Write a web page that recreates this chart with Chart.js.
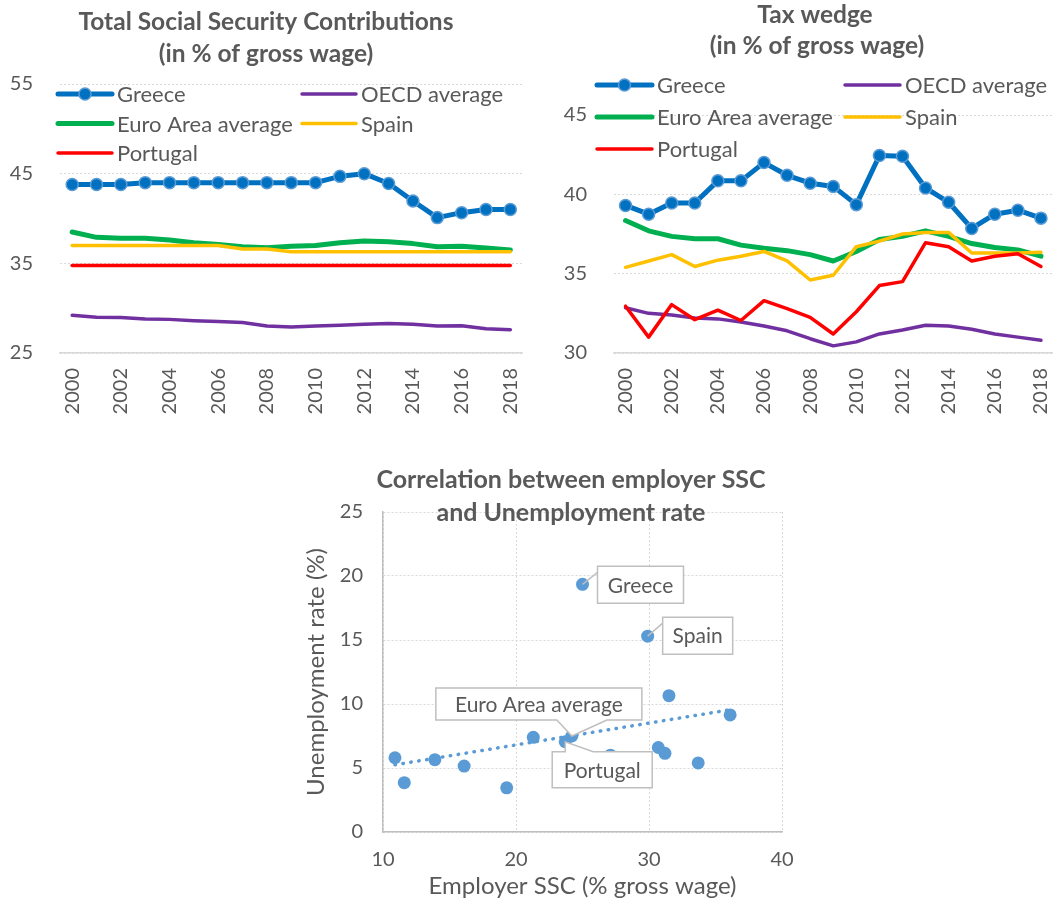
<!DOCTYPE html>
<html>
<head>
<meta charset="utf-8">
<script src="https://cdn.jsdelivr.net/npm/chart.js@4.4.1/dist/chart.umd.min.js"></script>
<style>
  body { margin: 0; background: #fff; }
  #wrap { position: relative; width: 1060px; height: 905px; }
  canvas { position: absolute; }
</style>
</head>
<body>
<div id="wrap">
  <canvas id="ssc" width="530" height="430" style="left:0;top:0"></canvas>
  <canvas id="wedge" width="530" height="430" style="left:530px;top:0"></canvas>
  <canvas id="corr" width="510" height="450" style="left:290px;top:455px"></canvas>
</div>
<script>
// ---- data ----
const years = ['2000', '2001', '2002', '2003', '2004', '2005', '2006', '2007', '2008', '2009',
  '2010', '2011', '2012', '2013', '2014', '2015', '2016', '2017', '2018'];

// total social security contributions (% of gross wage)
const sscGreece = [43.8, 43.8, 43.8, 44.0, 44.0, 44.0, 44.0, 44.0, 44.0, 44.0, 44.0, 44.7, 45.0, 43.9, 41.95, 40.1, 40.65, 41.0, 41.0];
const sscOecd = [29.2, 29.0, 28.95, 28.8, 28.75, 28.6, 28.5, 28.4, 28.0, 27.9, 28.0, 28.1, 28.2, 28.3, 28.2, 28.0, 28.05, 27.7, 27.6];
const sscEuro = [38.5, 37.9, 37.8, 37.8, 37.6, 37.3, 37.1, 36.85, 36.75, 36.9, 37.0, 37.3, 37.5, 37.4, 37.2, 36.85, 36.9, 36.7, 36.5];
const sscSpain = [37.0, 37.0, 37.0, 37.0, 37.0, 37.0, 37.0, 36.6, 36.6, 36.3, 36.3, 36.3, 36.3, 36.3, 36.3, 36.3, 36.3, 36.3, 36.3];
const sscPortugal = [34.75, 34.75, 34.75, 34.75, 34.75, 34.75, 34.75, 34.75, 34.75, 34.75, 34.75, 34.75, 34.75, 34.75, 34.75, 34.75, 34.75, 34.75, 34.75];

// tax wedge (% of gross wage)
const wedgeGreece = [39.3, 38.75, 39.45, 39.45, 40.85, 40.85, 42.0, 41.2, 40.7, 40.5, 39.35, 42.45, 42.4, 40.4, 39.5, 37.85, 38.75, 39.0, 38.5];
const wedgeOecd = [32.85, 32.5, 32.4, 32.2, 32.15, 31.95, 31.7, 31.4, 30.9, 30.45, 30.7, 31.2, 31.45, 31.75, 31.7, 31.5, 31.2, 31.0, 30.8];
const wedgeEuro = [38.35, 37.7, 37.35, 37.2, 37.2, 36.8, 36.6, 36.45, 36.2, 35.8, 36.4, 37.15, 37.35, 37.7, 37.35, 36.9, 36.65, 36.5, 36.1];
const wedgeSpain = [35.4, 35.8, 36.2, 35.45, 35.85, 36.1, 36.4, 35.8, 34.6, 34.9, 36.7, 37.05, 37.5, 37.6, 37.6, 36.3, 36.3, 36.3, 36.35];
const wedgePortugal = [32.95, 31.0, 33.05, 32.1, 32.7, 32.05, 33.3, 32.8, 32.25, 31.2, 32.6, 34.25, 34.5, 36.95, 36.7, 35.8, 36.1, 36.25, 35.45];

// employer SSC vs unemployment rate
const corrNames = ['', '', '', '', '', '', 'Portugal', 'Euro Area average', '', '', '', '', '', '', 'Greece', 'Spain'];
const corrSsc = [10.9, 11.6, 13.9, 16.1, 19.3, 21.3, 23.7, 24.2, 27.1, 30.7, 31.2, 31.5, 33.7, 36.1, 25.0, 29.9];
const corrUnemp = [5.8, 3.85, 5.65, 5.15, 3.45, 7.4, 7.05, 7.5, 6.0, 6.6, 6.15, 10.65, 5.4, 9.15, 19.35, 15.3];
const trendSsc = [10.9, 36.1];
const trendUnemp = [5.25, 9.55];

// ---- look ----
const GREY = '#595959';
Chart.defaults.font.family = 'Lato';
Chart.defaults.color = GREY;
Chart.defaults.animation = false;
Chart.defaults.plugins.legend.display = false;
Chart.defaults.plugins.tooltip.enabled = false;

const COLORS = { greece: '#0070C0', oecd: '#7030A0', euro: '#00B050', spain: '#FFC000', portugal: '#FF0000' };

// keep the plot area where the layout padding puts it (ticks.padding otherwise widens it)
function noSidePad(s) { s.paddingLeft = 0; s.paddingRight = 0; }

// draws multi-line titles at fixed spots
const titlePlugin = {
  id: 'fixedTitle',
  afterDraw(chart, args, opts) {
    const ctx = chart.ctx;
    ctx.save();
    ctx.font = 'bold ' + opts.size + 'px Lato';
    ctx.fillStyle = GREY;
    ctx.textAlign = 'center';
    ctx.textBaseline = 'alphabetic';
    opts.lines.forEach(l => ctx.fillText(l.text, l.x, l.y));
    ctx.restore();
  }
};

// two-column legend laid over the plot, like the Excel one
const legendPlugin = {
  id: 'gridLegend',
  afterDatasetsDraw(chart, args, opts) {
    const ctx = chart.ctx;
    chart.data.datasets.forEach((ds, i) => {
      const x = opts.cols[i % 2];
      const y = opts.top + Math.floor(i / 2) * opts.gap;
      ctx.save();
      ctx.strokeStyle = ds.borderColor;
      ctx.lineWidth = ds.borderWidth;
      ctx.lineCap = 'round';
      ctx.beginPath();
      ctx.moveTo(x, y);
      ctx.lineTo(x + opts.len, y);
      ctx.stroke();
      if (ds.pointRadius > 0) {
        ctx.beginPath();
        ctx.arc(x + opts.len / 2, y, ds.pointRadius, 0, Math.PI * 2);
        ctx.fillStyle = ds.pointBackgroundColor;
        ctx.fill();
        ctx.lineWidth = ds.pointBorderWidth;
        ctx.strokeStyle = ds.pointBorderColor;
        ctx.stroke();
      }
      ctx.font = opts.size + 'px Lato';
      ctx.fillStyle = GREY;
      ctx.textBaseline = 'middle';
      ctx.fillText(ds.label, x + opts.len + 5, y + 1);
      ctx.restore();
    });
  }
};

function lineSets(greece, oecd, euro, spain, portugal) {
  const base = { pointRadius: 0, borderWidth: 3.5, borderJoinStyle: 'round', borderCapStyle: 'round', tension: 0 };
  return [
    { ...base, label: 'Greece', data: greece, borderColor: COLORS.greece, borderWidth: 5, order: 0,
      pointRadius: 6, pointBackgroundColor: COLORS.greece, pointBorderColor: '#5B9BD5', pointBorderWidth: 1.5 },
    { ...base, label: 'OECD average', data: oecd, borderColor: COLORS.oecd, order: 4 },
    { ...base, label: 'Euro Area average', data: euro, borderColor: COLORS.euro, borderWidth: 5, order: 3 },
    { ...base, label: 'Spain', data: spain, borderColor: COLORS.spain, order: 2 },
    { ...base, label: 'Portugal', data: portugal, borderColor: COLORS.portugal, order: 1 }
  ];
}

function lineOptions(cfg) {
  return {
    responsive: false,
    layout: { padding: { left: 0, right: cfg.right, top: cfg.top, bottom: 0 } },
    scales: {
      x: {
        type: 'category',
        offset: true,
        afterFit: s => { s.height = 77; noSidePad(s); },
        grid: { display: false, drawTicks: false },
        border: { display: true, color: '#D9D9D9', width: 1.5 },
        ticks: {
          autoSkip: false, minRotation: 90, maxRotation: 90, padding: 15,
          font: { size: 20 }, color: GREY,
          callback(v, i) { return i % 2 === 0 ? this.getLabelForValue(v) : ''; }
        }
      },
      y: {
        min: cfg.min, max: cfg.max,
        afterFit: s => { s.width = cfg.axisW; },
        ticks: { stepSize: cfg.step, padding: 27, font: { size: 20 }, color: GREY },
        grid: { color: '#D9D9D9', lineWidth: 1, drawTicks: false },
        border: { display: false, dash: [2, 2] }
      }
    },
    plugins: {
      fixedTitle: { size: 24.5, lines: cfg.title },
      gridLegend: cfg.legend
    }
  };
}

new Chart(document.getElementById('ssc'), {
  type: 'line',
  data: { labels: years, datasets: lineSets(sscGreece, sscOecd, sscEuro, sscSpain, sscPortugal) },
  options: lineOptions({
    right: 7, top: 84, axisW: 60, min: 25, max: 55, step: 10,
    title: [{ text: 'Total Social Security Contributions', x: 266, y: 30 },
            { text: '(in % of gross wage)', x: 266, y: 62 }],
    legend: { cols: [58, 302], top: 94, gap: 29.5, len: 54, size: 22 }
  }),
  plugins: [titlePlugin, legendPlugin]
});

new Chart(document.getElementById('wedge'), {
  type: 'line',
  data: { labels: years, datasets: lineSets(wedgeGreece, wedgeOecd, wedgeEuro, wedgeSpain, wedgePortugal) },
  options: lineOptions({
    right: 7, top: 115, axisW: 84, min: 30, max: 45, step: 5,
    title: [{ text: 'Tax wedge', x: 285, y: 23 },
            { text: '(in % of gross wage)', x: 287, y: 54 }],
    legend: { cols: [67, 315], top: 85, gap: 32, len: 55, size: 22 }
  }),
  plugins: [titlePlugin, legendPlugin]
});

// callout boxes for the named scatter points (offsets relative to the point)
const calloutStyle = {
  'Greece': { dx: 15, dy: -18, w: 86, h: 37, kind: 'leader' },
  'Spain': { dx: 15, dy: -19, w: 70, h: 37, kind: 'leader' },
  'Euro Area average': { dx: -136, dy: -48, w: 206, h: 32, kind: 'below', w0: -15, w1: 35 },
  'Portugal': { dx: -13, dy: 10, w: 100, h: 36, kind: 'above', w0: 0, w1: 28 }
};

const calloutPlugin = {
  id: 'callouts',
  afterDatasetsDraw(chart) {
    const ctx = chart.ctx;
    const pts = chart.getDatasetMeta(1).data;
    ctx.save();
    ctx.font = '21px Lato';
    corrNames.forEach((name, i) => {
      const st = calloutStyle[name];
      if (!st) return;
      const p = pts[i];
      const w = st.w;
      const bx = p.x + st.dx, by = p.y + st.dy;
      ctx.strokeStyle = '#BFBFBF';
      ctx.lineWidth = 1.5;
      ctx.fillStyle = '#fff';
      ctx.beginPath();
      if (st.kind === 'leader') {
        ctx.moveTo(p.x, p.y);
        ctx.lineTo(bx, by + 6);
        ctx.stroke();
        ctx.beginPath();
        ctx.rect(bx, by, w, st.h);
      } else if (st.kind === 'below') {
        ctx.moveTo(bx, by);
        ctx.lineTo(bx + w, by);
        ctx.lineTo(bx + w, by + st.h);
        ctx.lineTo(p.x + st.w1, by + st.h);
        ctx.lineTo(p.x, p.y);
        ctx.lineTo(p.x + st.w0, by + st.h);
        ctx.lineTo(bx, by + st.h);
        ctx.closePath();
      } else {
        ctx.moveTo(bx, by);
        ctx.lineTo(p.x + st.w0, by);
        ctx.lineTo(p.x, p.y);
        ctx.lineTo(p.x + st.w1, by);
        ctx.lineTo(bx + w, by);
        ctx.lineTo(bx + w, by + st.h);
        ctx.lineTo(bx, by + st.h);
        ctx.closePath();
      }
      ctx.fill();
      ctx.stroke();
      ctx.fillStyle = GREY;
      ctx.textAlign = 'center';
      ctx.textBaseline = 'middle';
      ctx.fillText(name, bx + w / 2, by + st.h / 2 + 1);
    });
    ctx.restore();
  }
};

new Chart(document.getElementById('corr'), {
  type: 'scatter',
  data: {
    datasets: [
      {
        type: 'line', label: 'trend', order: 2,
        data: trendSsc.map((x, i) => ({ x, y: trendUnemp[i] })),
        borderColor: '#5B9BD5', borderWidth: 3.5, borderDash: [0.5, 7.5], borderCapStyle: 'round',
        pointRadius: 0, fill: false
      },
      {
        label: 'countries', order: 1,
        data: corrSsc.map((x, i) => ({ x, y: corrUnemp[i] })),
        backgroundColor: '#5B9BD5', borderColor: '#5B9BD5', pointRadius: 6.5, borderWidth: 0
      }
    ]
  },
  options: {
    responsive: false,
    layout: { padding: { left: 0, right: 18, top: 57, bottom: 0 } },
    scales: {
      x: {
        type: 'linear', min: 10, max: 40,
        afterFit: s => { s.height = 73; noSidePad(s); },
        ticks: { stepSize: 10, padding: 16, font: { size: 20 }, color: GREY },
        grid: { color: '#D9D9D9', drawTicks: false },
        border: { display: true, color: '#BFBFBF', width: 1.5, dash: [2, 2] },
        title: { display: true, text: 'Employer SSC (% gross wage)', font: { size: 24 }, color: GREY,
                 padding: { top: 0, bottom: 4 } }
      },
      y: {
        min: 0, max: 25,
        afterFit: s => { s.width = 93; },
        ticks: { stepSize: 5, padding: 20, font: { size: 20 }, color: GREY },
        grid: { color: '#D9D9D9', drawTicks: false },
        border: { display: true, color: '#BFBFBF', width: 1.5, dash: [2, 2] },
        title: { display: true, text: 'Unemployment rate (%)', font: { size: 24 }, color: GREY,
                 padding: { top: 12, bottom: 0 } }
      }
    },
    plugins: {
      fixedTitle: { size: 25, lines: [
        { text: 'Correlation between employer SSC', x: 281, y: 33 },
        { text: 'and Unemployment rate', x: 281, y: 66 }
      ] }
    }
  },
  plugins: [titlePlugin, calloutPlugin]
});
</script>
</body>
</html>
